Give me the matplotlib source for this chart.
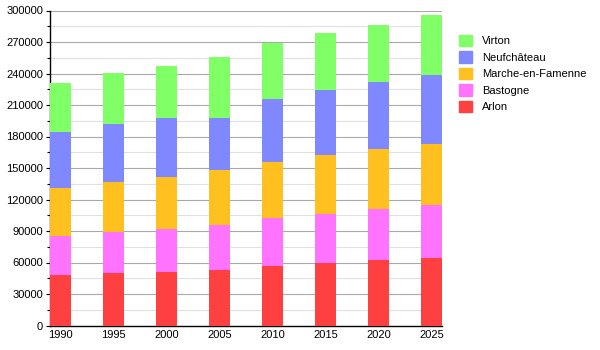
import numpy as np
import matplotlib
matplotlib.use('Agg')
import matplotlib.pyplot as plt
from matplotlib.ticker import MultipleLocator
from matplotlib.patches import Patch

plt.rcParams['font.family'] = ['Liberation Sans', 'DejaVu Sans']

years = ['1990', '1995', '2000', '2005', '2010', '2015', '2020', '2025']
arlon = [48100, 49700, 51000, 52900, 57000, 59800, 62400, 64600]
bastogne = [37100, 39300, 40900, 42800, 45400, 46400, 48900, 50200]
marche = [45800, 47700, 49800, 52400, 53000, 56200, 57100, 58100]
neufchateau = [53300, 55200, 55900, 49500, 60300, 61900, 63500, 65700]
virton = [46900, 48600, 49500, 58100, 53600, 54300, 54600, 57100]

names = ['Arlon', 'Bastogne', 'Marche-en-Famenne', 'Neufchâteau', 'Virton']
series = [arlon, bastogne, marche, neufchateau, virton]
colors = ['#ff4040', '#ff73ff', '#ffc020', '#7f88ff', '#80ff66']

fig = plt.figure(figsize=(6, 3.5), dpi=100)
ax = fig.add_axes([50 / 600, 24.5 / 350, 392 / 600, 315 / 350])

x = np.arange(len(years))
bottom = np.zeros(len(years))
for vals, c in zip(series, colors):
    ax.bar(x, vals, width=0.4, bottom=bottom, color=c, zorder=3)
    bottom += np.array(vals)

ax.set_xlim(-0.2, 7.2)
ax.set_ylim(0, 300000)
ax.set_xticks(x)
ax.set_xticklabels(years, fontsize=8)
ax.yaxis.set_major_locator(MultipleLocator(30000))
ax.yaxis.set_minor_locator(MultipleLocator(15000))
ax.tick_params(axis='y', labelsize=8, length=3, width=0.8, pad=2)
ax.tick_params(axis='y', which='minor', length=2, width=0.8)
ax.tick_params(axis='x', length=0, pad=3)
ax.grid(axis='y', which='major', color='#a8a8a8', linewidth=0.8, zorder=0)
ax.grid(axis='y', which='minor', color='#e0e0e0', linewidth=0.8, zorder=0)
for s in ['top', 'right']:
    ax.spines[s].set_visible(False)
ax.spines['left'].set_linewidth(1)
ax.spines['bottom'].set_linewidth(1)

handles = [Patch(color=c) for c in colors][::-1]
fig.legend(handles, names[::-1], loc='upper left', bbox_to_anchor=(449 / 600, 1 - 25 / 350),
           frameon=False, fontsize=8, handlelength=1.2, handleheight=1.2,
           handletextpad=0.9, labelspacing=0.45)

fig.savefig('out.png', dpi=100)
